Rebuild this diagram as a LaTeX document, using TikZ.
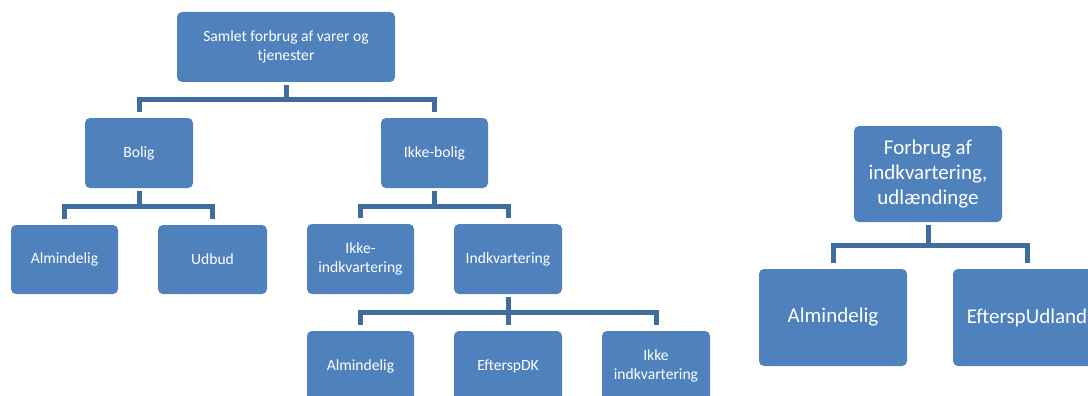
\documentclass[tikz,border=0pt]{standalone}
\usepackage{fontspec}
\setmainfont{Carlito}
\usetikzlibrary{calc}
\definecolor{boxblue}{HTML}{4F81BD}
\definecolor{lineblue}{HTML}{3F6D9F}
\tikzset{
  box/.style={rectangle, rounded corners=5pt, fill=boxblue, text=white, inner sep=0pt, align=center, font=\fontsize{15.6}{18.6}\selectfont},
  bigbox/.style={box, font=\fontsize{21}{24.6}\selectfont},
  conn/.style={draw=lineblue, line width=5pt, shorten <=3pt, shorten >=6pt},
}
\newcommand{\branch}[2]{\draw[conn] (#1.south) |- ($(#1.south)!.5!(#2.north)$) -| (#2.north);}
\begin{document}
\begin{tikzpicture}[x=1pt,y=-1pt]
\useasboundingbox (0,0) rectangle (1088,396);
\clip (0,0) rectangle (1088,396);
\node[box, minimum width=218pt, minimum height=70pt] (top) at (286,47) {Samlet forbrug af varer og\\tjenester};
\node[box, minimum width=108pt, minimum height=70pt] (bolig) at (139,153) {Bolig};
\node[box, minimum width=107pt, minimum height=70pt] (ikkebolig) at (434.5,153) {Ikke-bolig};
\node[box, minimum width=107pt, minimum height=69pt] (alm1) at (64.5,259.5) {Almindelig};
\node[box, minimum width=109pt, minimum height=69pt] (udbud) at (212.5,259.5) {Udbud};
\node[box, minimum width=107pt, minimum height=70pt] (ikkeindk) at (360.5,259) {Ikke-\\indkvartering};
\node[box, minimum width=108pt, minimum height=70pt] (indk) at (508,259) {Indkvartering};
\node[box, minimum width=107pt, minimum height=70pt] (alm2) at (360.5,366) {Almindelig};
\node[box, minimum width=108pt, minimum height=70pt] (efterspdk) at (508,366) {EfterspDK};
\node[box, minimum width=108pt, minimum height=70pt] (ikkeindk2) at (656,366) {Ikke\\indkvartering};
\node[bigbox, minimum width=148pt, minimum height=96pt] (forbrug) at (928,174) {Forbrug af\\indkvartering,\\udlændinge};
\node[bigbox, minimum width=148pt, minimum height=97pt] (alm3) at (833,317.5) {Almindelig};
\node[bigbox, minimum width=148pt, minimum height=97pt] (eftersp) at (1027,317.5) {EfterspUdland};
\branch{top}{bolig}
\branch{top}{ikkebolig}
\branch{bolig}{alm1}
\branch{bolig}{udbud}
\branch{ikkebolig}{ikkeindk}
\branch{ikkebolig}{indk}
\branch{indk}{alm2}
\branch{indk}{efterspdk}
\branch{indk}{ikkeindk2}
\branch{forbrug}{alm3}
\branch{forbrug}{eftersp}
\end{tikzpicture}
\end{document}
